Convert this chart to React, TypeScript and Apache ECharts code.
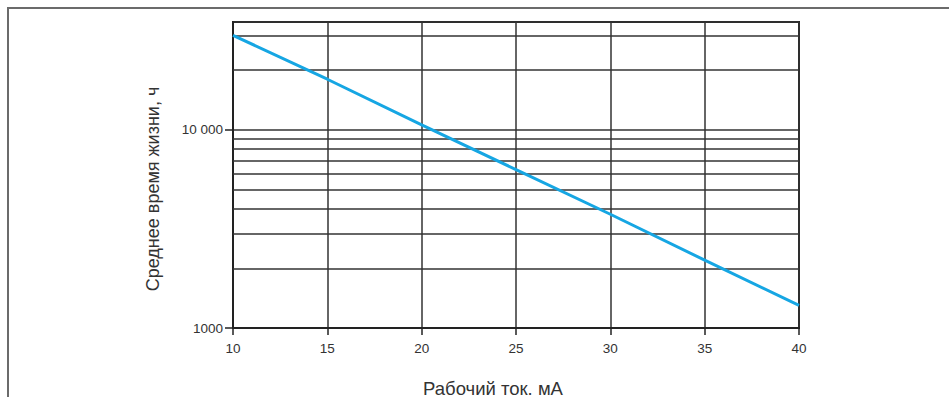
import React, { useEffect, useRef } from "react";
import * as echarts from "echarts";

const currentMA = [10, 15, 20, 25, 30, 35, 40];
const lifeHours = [30000, 18000, 10600, 6300, 3750, 2200, 1300];
const minorGridValues = [2000, 3000, 4000, 5000, 6000, 7000, 8000, 9000, 20000, 30000];
const xAxisName = "Рабочий ток. мА";
const yAxisName = "Среднее время жизни, ч";

export default function App() {
  const ref = useRef<HTMLDivElement>(null);
  useEffect(() => {
    if (!ref.current) return;
    const chart = echarts.init(ref.current, null, { renderer: "svg" });
    const font = "Liberation Sans, Arial, sans-serif";
    chart.setOption({
      animation: false,
      backgroundColor: "#ffffff",
      grid: {
        left: 233,
        top: 22,
        right: 150,
        bottom: 69,
        show: true,
        borderColor: "#222222",
        borderWidth: 2,
      },
      xAxis: {
        type: "value",
        min: 10,
        max: 40,
        interval: 5,
        axisLine: { show: true, lineStyle: { color: "#222222", width: 2 } },
        axisTick: { show: true, length: 7, lineStyle: { color: "#222222", width: 1.5 } },
        axisLabel: { color: "#333333", fontSize: 13.5, fontFamily: font, margin: 13 },
        splitLine: { show: true, lineStyle: { color: "#333333", width: 1.5 } },
      },
      yAxis: {
        type: "log",
        logBase: 10,
        min: 1000,
        max: 35000,
        axisLine: { show: true, lineStyle: { color: "#222222", width: 2 } },
        axisTick: { show: true, length: 8, lineStyle: { color: "#222222", width: 1.5 } },
        axisLabel: {
          color: "#333333",
          fontSize: 13.5,
          fontFamily: font,
          margin: 10,
          showMaxLabel: false,
          formatter: (v: number) => (v >= 10000 ? String(Math.round(v)).replace(/\B(?=(\d{3})+(?!\d))/g, " ") : String(Math.round(v))),
        },
        splitLine: { show: true, lineStyle: { color: "#333333", width: 1.5 } },
      },
      graphic: [
        {
          type: "rect",
          z: -10,
          shape: { x: 8, y: 8, width: 1000, height: 500 },
          style: { fill: "none", stroke: "#6b6b6b", lineWidth: 2 },
        },
        {
          type: "text",
          x: 153,
          y: 189,
          rotation: Math.PI / 2,
          style: {
            text: yAxisName,
            fontSize: 18,
            fontFamily: font,
            fill: "#333333",
            align: "center",
            verticalAlign: "middle",
          },
        },
        {
          type: "text",
          x: 493,
          y: 388,
          style: {
            text: xAxisName,
            fontSize: 18.5,
            fontFamily: font,
            fill: "#333333",
            align: "center",
            verticalAlign: "middle",
          },
        },
      ],
      series: [
        {
          type: "line",
          data: currentMA.map((x, i) => [x, lifeHours[i]]),
          showSymbol: false,
          lineStyle: { color: "#16a6e3", width: 3 },
          z: 5,
          markLine: {
            silent: true,
            symbol: "none",
            label: { show: false },
            lineStyle: { color: "#333333", width: 1.5, type: "solid" },
            data: minorGridValues.map((v) => ({ yAxis: v })),
            z: 1,
          },
        },
      ],
    });
    return () => chart.dispose();
  }, []);
  return (
    <div
      ref={ref}
      style={{ position: "fixed", left: 0, top: 0, width: 949, height: 397 }}
    />
  );
}
